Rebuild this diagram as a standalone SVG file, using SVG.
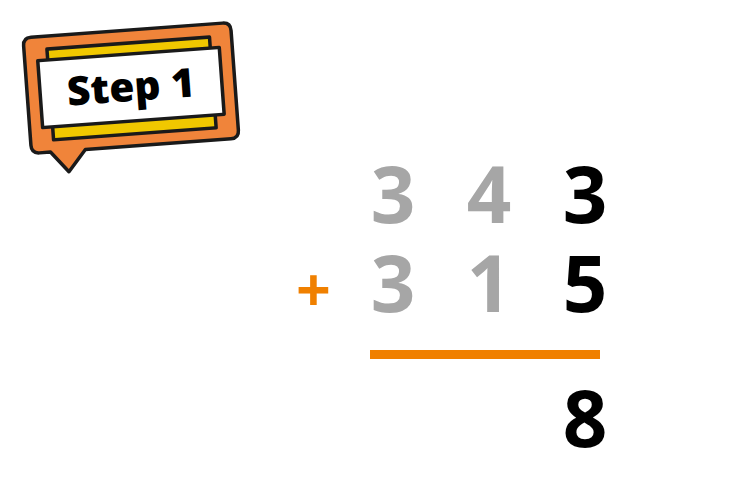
<svg xmlns="http://www.w3.org/2000/svg" width="751" height="480" viewBox="0 0 751 480">
<style>
.dig{font-family:"Open Sans","Liberation Sans",sans-serif;font-weight:700;font-size:78px;text-anchor:middle}
.g{fill:#a6a6a6}
.k{fill:#000}
.o{fill:#f08000}
.ln{stroke:#1a1a1a;stroke-width:3.5;stroke-linejoin:round}
</style>
<rect width="751" height="480" fill="#fff"/>
<g id="badge" transform="translate(131,88) rotate(-4.2)">
<path class="ln" fill="#f0843a" d="M-96,-58 H96 Q104,-58 104,-50 V50 Q104,58 96,58 H-50 L-68,79 L-85,58 H-96 Q-104,58 -104,50 V-50 Q-104,-58 -96,-58 Z"/>
<rect class="ln" fill="#f0c800" x="-81" y="-45" width="163" height="91"/>
<rect class="ln" fill="#fff" x="-91" y="-34" width="182" height="67"/>
<text x="0" y="13" font-family="Open Sans, Liberation Sans, sans-serif" font-weight="800" font-size="40" text-anchor="middle" textLength="128" lengthAdjust="spacingAndGlyphs" fill="#000">Step 1</text>
</g>
<g id="row1">
<text class="dig g" x="393" y="223">3</text>
<text class="dig g" x="489" y="223">4</text>
<text class="dig k" x="585" y="223">3</text>
</g>
<g id="row2">
<text class="dig o" x="313.5" y="312" style="font-size:61px">+</text>
<text class="dig g" x="393" y="312">3</text>
<text class="dig g" x="489" y="312">1</text>
<text class="dig k" x="585" y="312">5</text>
</g>
<rect id="line" class="o" x="370" y="350" width="230" height="9"/>
<g id="result">
<text class="dig k" x="585" y="447">8</text>
</g>
</svg>
